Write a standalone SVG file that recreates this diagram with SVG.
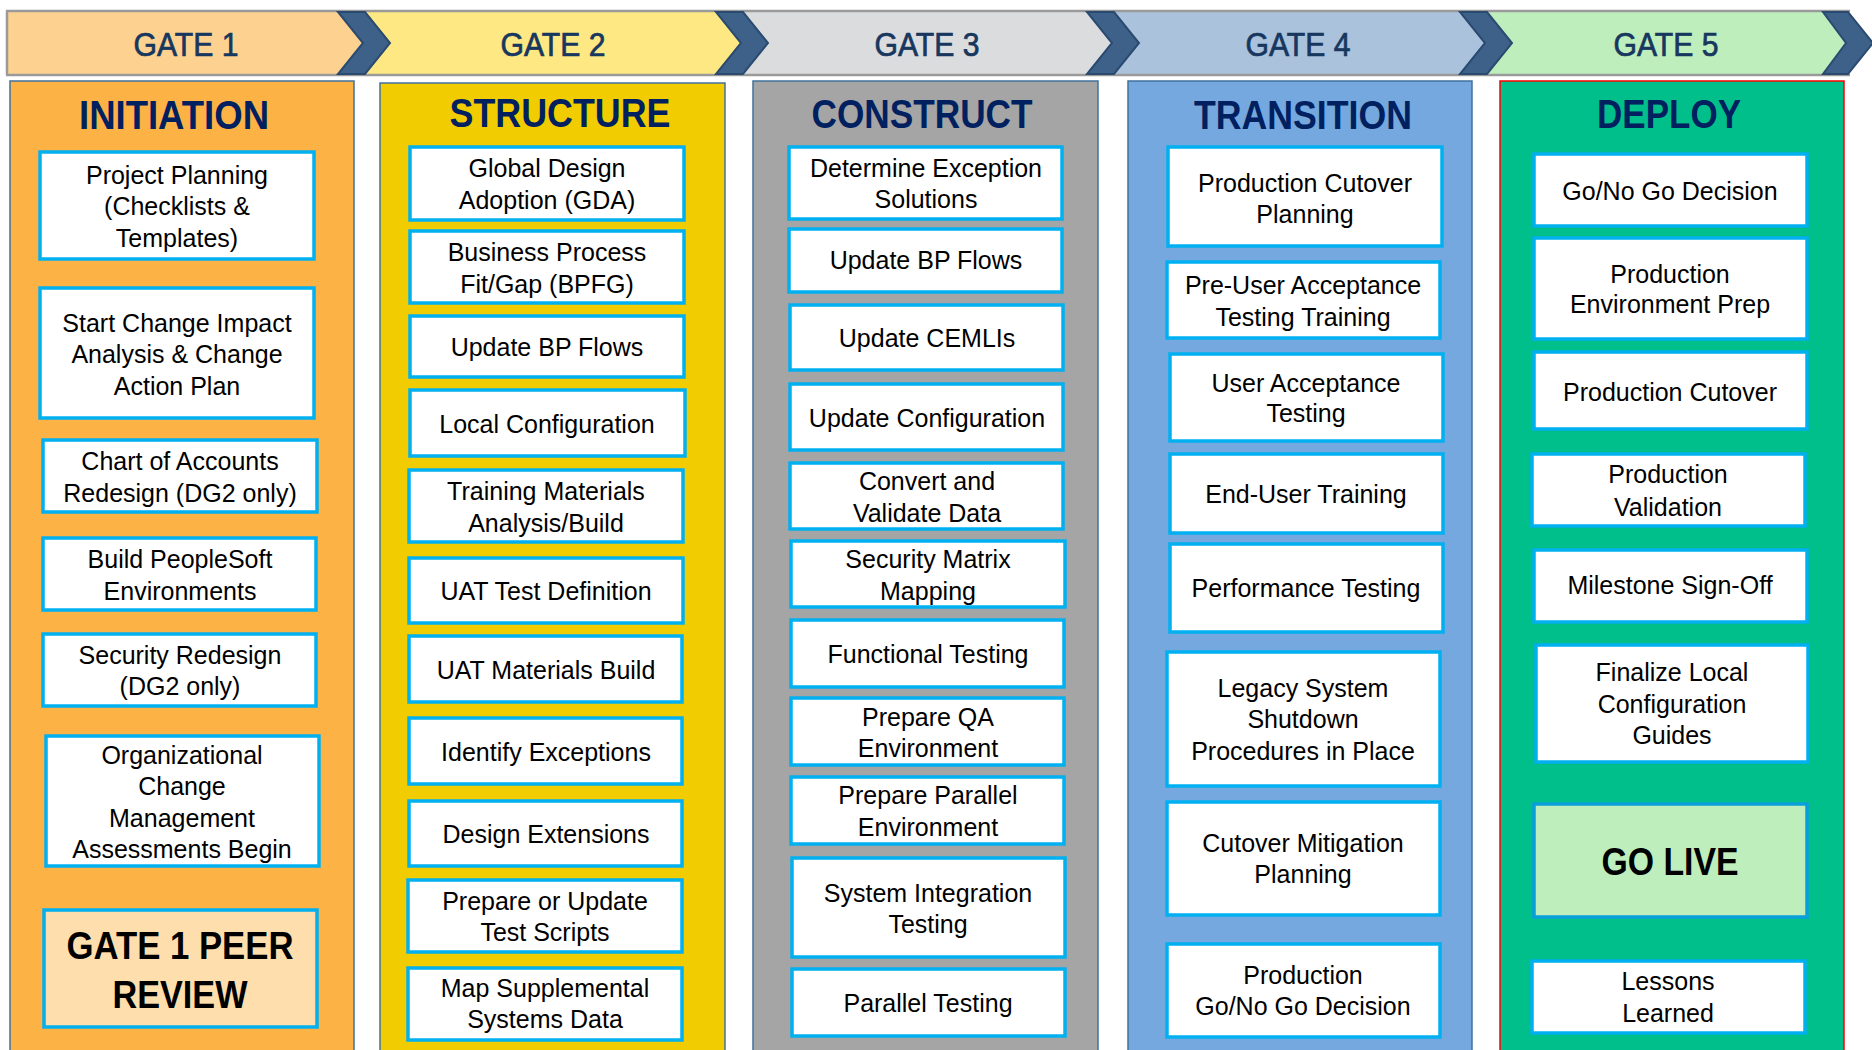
<svg xmlns="http://www.w3.org/2000/svg" width="1872" height="1050" viewBox="0 0 1872 1050">
<style>
.seg{stroke:none}
.chev{fill:#3E6189;stroke:#2B4A70;stroke-width:2;stroke-linejoin:miter}
.gate{font-family:"Liberation Sans",Arial,sans-serif;font-size:33px;fill:#17375E;stroke:#17375E;stroke-width:0.7;text-anchor:middle}
.col{stroke:#41719C;stroke-width:1.5}
.title{font-family:"Liberation Sans",Arial,sans-serif;font-size:40px;font-weight:bold;fill:#002060;text-anchor:middle}
.box{fill:#FFFFFF;stroke:#00B0F0;stroke-width:3.5}
.t{font-family:"Liberation Sans",Arial,sans-serif;font-size:25px;fill:#000000;text-anchor:middle}
.big{font-family:"Liberation Sans",Arial,sans-serif;font-size:38px;font-weight:bold;fill:#000000;text-anchor:middle}
</style>
<rect x="0" y="0" width="1872" height="1050" fill="#FFFFFF"/>

<g id="header">
  <polygon class="seg" fill="#FDD291" points="7,12 338,12 363,43 338,74 7,74"/>
  <polygon class="seg" fill="#FEE883" points="365,12 716,12 741,43 716,74 365,74 390,43"/>
  <polygon class="seg" fill="#DBDCDE" points="743,12 1087,12 1112,43 1087,74 743,74 768,43"/>
  <polygon class="seg" fill="#AAC2DC" points="1114,12 1460,12 1485,43 1460,74 1114,74 1139,43"/>
  <polygon class="seg" fill="#BEEEBC" points="1487,12 1823,12 1848,43 1823,74 1487,74 1512,43"/>
  <line x1="6" y1="11" x2="1850" y2="11" stroke="#9A9A9A" stroke-width="2.5"/>
  <line x1="6" y1="75" x2="1850" y2="75" stroke="#9A9A9A" stroke-width="2.5"/>
  <line x1="7" y1="11" x2="7" y2="75" stroke="#9A9A9A" stroke-width="2.5"/>
  <polygon class="chev" points="338,12 365,12 390,43 365,74 338,74 363,43"/>
  <polygon class="chev" points="716,12 743,12 768,43 743,74 716,74 741,43"/>
  <polygon class="chev" points="1087,12 1114,12 1139,43 1114,74 1087,74 1112,43"/>
  <polygon class="chev" points="1460,12 1487,12 1512,43 1487,74 1460,74 1485,43"/>
  <polygon class="chev" points="1823,12 1848,12 1873,43 1848,74 1823,74 1846,43"/>
  <text class="gate" x="186" y="56" textLength="105" lengthAdjust="spacingAndGlyphs">GATE 1</text>
  <text class="gate" x="553" y="56" textLength="105" lengthAdjust="spacingAndGlyphs">GATE 2</text>
  <text class="gate" x="927" y="56" textLength="105" lengthAdjust="spacingAndGlyphs">GATE 3</text>
  <text class="gate" x="1298" y="56" textLength="105" lengthAdjust="spacingAndGlyphs">GATE 4</text>
  <text class="gate" x="1666" y="56" textLength="105" lengthAdjust="spacingAndGlyphs">GATE 5</text>
</g>

<g id="col-initiation">
  <rect class="col" x="10" y="81" width="344" height="980" fill="#FDB246"/>
  <text class="title" x="174" y="129" textLength="190" lengthAdjust="spacingAndGlyphs">INITIATION</text>
</g>
<g id="col-structure">
  <rect class="col" x="380" y="83" width="345" height="980" fill="#F0CC00"/>
  <text class="title" x="560" y="127" textLength="221" lengthAdjust="spacingAndGlyphs">STRUCTURE</text>
</g>
<g id="col-construct">
  <rect class="col" x="753" y="81" width="345" height="980" fill="#A5A5A5"/>
  <text class="title" x="922" y="128" textLength="221" lengthAdjust="spacingAndGlyphs">CONSTRUCT</text>
</g>
<g id="col-transition">
  <rect class="col" x="1128" y="81" width="344" height="980" fill="#74A8DE"/>
  <text class="title" x="1303" y="129" textLength="218" lengthAdjust="spacingAndGlyphs">TRANSITION</text>
</g>
<g id="col-deploy">
  <rect x="1500" y="81" width="344" height="980" fill="#00BF8A" stroke="#FF0000" stroke-width="1.5"/>
  <text class="title" x="1669" y="128" textLength="144" lengthAdjust="spacingAndGlyphs">DEPLOY</text>
</g>

<!-- Column 1 -->
<g id="g1-project-planning"><rect class="box" x="40" y="152" width="274" height="107"/>
  <text class="t" x="177" y="184">Project Planning</text><text class="t" x="177" y="215">(Checklists &amp;</text><text class="t" x="177" y="247">Templates)</text></g>
<g id="g1-change-impact"><rect class="box" x="40" y="288" width="274" height="130"/>
  <text class="t" x="177" y="332">Start Change Impact</text><text class="t" x="177" y="363">Analysis &amp; Change</text><text class="t" x="177" y="395">Action Plan</text></g>
<g id="g1-chart-accounts"><rect class="box" x="43" y="440" width="274" height="72"/>
  <text class="t" x="180" y="470">Chart of Accounts</text><text class="t" x="180" y="502">Redesign (DG2 only)</text></g>
<g id="g1-build-peoplesoft"><rect class="box" x="43" y="538" width="273" height="72"/>
  <text class="t" x="180" y="568">Build PeopleSoft</text><text class="t" x="180" y="600">Environments</text></g>
<g id="g1-security-redesign"><rect class="box" x="43" y="634" width="273" height="72"/>
  <text class="t" x="180" y="664">Security Redesign</text><text class="t" x="180" y="695">(DG2 only)</text></g>
<g id="g1-ocm"><rect class="box" x="46" y="736" width="273" height="130"/>
  <text class="t" x="182" y="764">Organizational</text><text class="t" x="182" y="795">Change</text><text class="t" x="182" y="827">Management</text><text class="t" x="182" y="858">Assessments Begin</text></g>
<g id="g1-peer-review"><rect class="box" x="44" y="910" width="273" height="117" fill="#FFDEAD" style="fill:#FFDEAD"/>
  <text class="big" x="180" y="959" textLength="227" lengthAdjust="spacingAndGlyphs">GATE 1 PEER</text><text class="big" x="180" y="1008" textLength="135" lengthAdjust="spacingAndGlyphs">REVIEW</text></g>

<!-- Column 2 -->
<g id="g2-gda"><rect class="box" x="410" y="147" width="274" height="73"/>
  <text class="t" x="547" y="177">Global Design</text><text class="t" x="547" y="209">Adoption (GDA)</text></g>
<g id="g2-bpfg"><rect class="box" x="410" y="231" width="274" height="72"/>
  <text class="t" x="547" y="261">Business Process</text><text class="t" x="547" y="293">Fit/Gap (BPFG)</text></g>
<g id="g2-bp-flows"><rect class="box" x="410" y="316" width="274" height="61"/>
  <text class="t" x="547" y="356">Update BP Flows</text></g>
<g id="g2-local-config"><rect class="box" x="410" y="390" width="275" height="66"/>
  <text class="t" x="547" y="433">Local Configuration</text></g>
<g id="g2-training-materials"><rect class="box" x="409" y="470" width="274" height="72"/>
  <text class="t" x="546" y="500">Training Materials</text><text class="t" x="546" y="532">Analysis/Build</text></g>
<g id="g2-uat-test-def"><rect class="box" x="409" y="558" width="274" height="65"/>
  <text class="t" x="546" y="600">UAT Test Definition</text></g>
<g id="g2-uat-materials"><rect class="box" x="409" y="636" width="273" height="66"/>
  <text class="t" x="546" y="679">UAT Materials Build</text></g>
<g id="g2-identify-exceptions"><rect class="box" x="409" y="718" width="273" height="66"/>
  <text class="t" x="546" y="761">Identify Exceptions</text></g>
<g id="g2-design-extensions"><rect class="box" x="409" y="801" width="273" height="65"/>
  <text class="t" x="546" y="843">Design Extensions</text></g>
<g id="g2-test-scripts"><rect class="box" x="408" y="880" width="274" height="72"/>
  <text class="t" x="545" y="910">Prepare or Update</text><text class="t" x="545" y="941">Test Scripts</text></g>
<g id="g2-map-supplemental"><rect class="box" x="408" y="968" width="274" height="72"/>
  <text class="t" x="545" y="997">Map Supplemental</text><text class="t" x="545" y="1028">Systems Data</text></g>

<!-- Column 3 -->
<g id="g3-exception-solutions"><rect class="box" x="789" y="147" width="273" height="72"/>
  <text class="t" x="926" y="177">Determine Exception</text><text class="t" x="926" y="208">Solutions</text></g>
<g id="g3-bp-flows"><rect class="box" x="789" y="229" width="273" height="63"/>
  <text class="t" x="926" y="269">Update BP Flows</text></g>
<g id="g3-cemlis"><rect class="box" x="790" y="305" width="273" height="65"/>
  <text class="t" x="927" y="347">Update CEMLIs</text></g>
<g id="g3-update-config"><rect class="box" x="790" y="384" width="273" height="66"/>
  <text class="t" x="927" y="427">Update Configuration</text></g>
<g id="g3-convert-data"><rect class="box" x="790" y="463" width="273" height="66"/>
  <text class="t" x="927" y="490">Convert and</text><text class="t" x="927" y="522">Validate Data</text></g>
<g id="g3-security-matrix"><rect class="box" x="791" y="541" width="274" height="66"/>
  <text class="t" x="928" y="568">Security Matrix</text><text class="t" x="928" y="600">Mapping</text></g>
<g id="g3-functional-testing"><rect class="box" x="791" y="620" width="273" height="67"/>
  <text class="t" x="928" y="663">Functional Testing</text></g>
<g id="g3-qa-env"><rect class="box" x="791" y="698" width="273" height="67"/>
  <text class="t" x="928" y="726">Prepare QA</text><text class="t" x="928" y="757">Environment</text></g>
<g id="g3-parallel-env"><rect class="box" x="791" y="777" width="273" height="67"/>
  <text class="t" x="928" y="804">Prepare Parallel</text><text class="t" x="928" y="836">Environment</text></g>
<g id="g3-sit"><rect class="box" x="792" y="858" width="273" height="99"/>
  <text class="t" x="928" y="902">System Integration</text><text class="t" x="928" y="933">Testing</text></g>
<g id="g3-parallel-testing"><rect class="box" x="792" y="969" width="273" height="67"/>
  <text class="t" x="928" y="1012">Parallel Testing</text></g>

<!-- Column 4 -->
<g id="g4-cutover-planning"><rect class="box" x="1168" y="147" width="274" height="99"/>
  <text class="t" x="1305" y="192">Production Cutover</text><text class="t" x="1305" y="223">Planning</text></g>
<g id="g4-pre-uat-training"><rect class="box" x="1167" y="262" width="273" height="76"/>
  <text class="t" x="1303" y="294">Pre-User Acceptance</text><text class="t" x="1303" y="326">Testing Training</text></g>
<g id="g4-uat"><rect class="box" x="1170" y="354" width="273" height="87"/>
  <text class="t" x="1306" y="392">User Acceptance</text><text class="t" x="1306" y="422">Testing</text></g>
<g id="g4-end-user-training"><rect class="box" x="1170" y="454" width="273" height="79"/>
  <text class="t" x="1306" y="503">End-User Training</text></g>
<g id="g4-performance-testing"><rect class="box" x="1170" y="544" width="273" height="88"/>
  <text class="t" x="1306" y="597">Performance Testing</text></g>
<g id="g4-legacy-shutdown"><rect class="box" x="1167" y="652" width="273" height="134"/>
  <text class="t" x="1303" y="697">Legacy System</text><text class="t" x="1303" y="728">Shutdown</text><text class="t" x="1303" y="760">Procedures in Place</text></g>
<g id="g4-cutover-mitigation"><rect class="box" x="1167" y="802" width="273" height="113"/>
  <text class="t" x="1303" y="852">Cutover Mitigation</text><text class="t" x="1303" y="883">Planning</text></g>
<g id="g4-prod-go-no-go"><rect class="box" x="1167" y="944" width="273" height="93"/>
  <text class="t" x="1303" y="984">Production</text><text class="t" x="1303" y="1015">Go/No Go Decision</text></g>

<!-- Column 5 -->
<g id="g5-go-no-go"><rect class="box" x="1534" y="154" width="273" height="72"/>
  <text class="t" x="1670" y="200">Go/No Go Decision</text></g>
<g id="g5-prod-env-prep"><rect class="box" x="1534" y="238" width="273" height="101"/>
  <text class="t" x="1670" y="283">Production</text><text class="t" x="1670" y="313">Environment Prep</text></g>
<g id="g5-prod-cutover"><rect class="box" x="1534" y="352" width="273" height="77"/>
  <text class="t" x="1670" y="401">Production Cutover</text></g>
<g id="g5-prod-validation"><rect class="box" x="1532" y="454" width="273" height="72"/>
  <text class="t" x="1668" y="483">Production</text><text class="t" x="1668" y="516">Validation</text></g>
<g id="g5-milestone-signoff"><rect class="box" x="1534" y="550" width="273" height="72"/>
  <text class="t" x="1670" y="594">Milestone Sign-Off</text></g>
<g id="g5-finalize-config"><rect class="box" x="1536" y="645" width="272" height="117"/>
  <text class="t" x="1672" y="681">Finalize Local</text><text class="t" x="1672" y="713">Configuration</text><text class="t" x="1672" y="744">Guides</text></g>
<g id="g5-go-live"><rect x="1534" y="804" width="273" height="113" fill="#BDEEBB" stroke="#0A9EDA" stroke-width="3.5"/>
  <text class="big" x="1670" y="875" style="font-size:39px" textLength="137" lengthAdjust="spacingAndGlyphs">GO LIVE</text></g>
<g id="g5-lessons-learned"><rect class="box" x="1532" y="961" width="273" height="72"/>
  <text class="t" x="1668" y="990">Lessons</text><text class="t" x="1668" y="1022">Learned</text></g>

<g id="connectors"></g>
</svg>
